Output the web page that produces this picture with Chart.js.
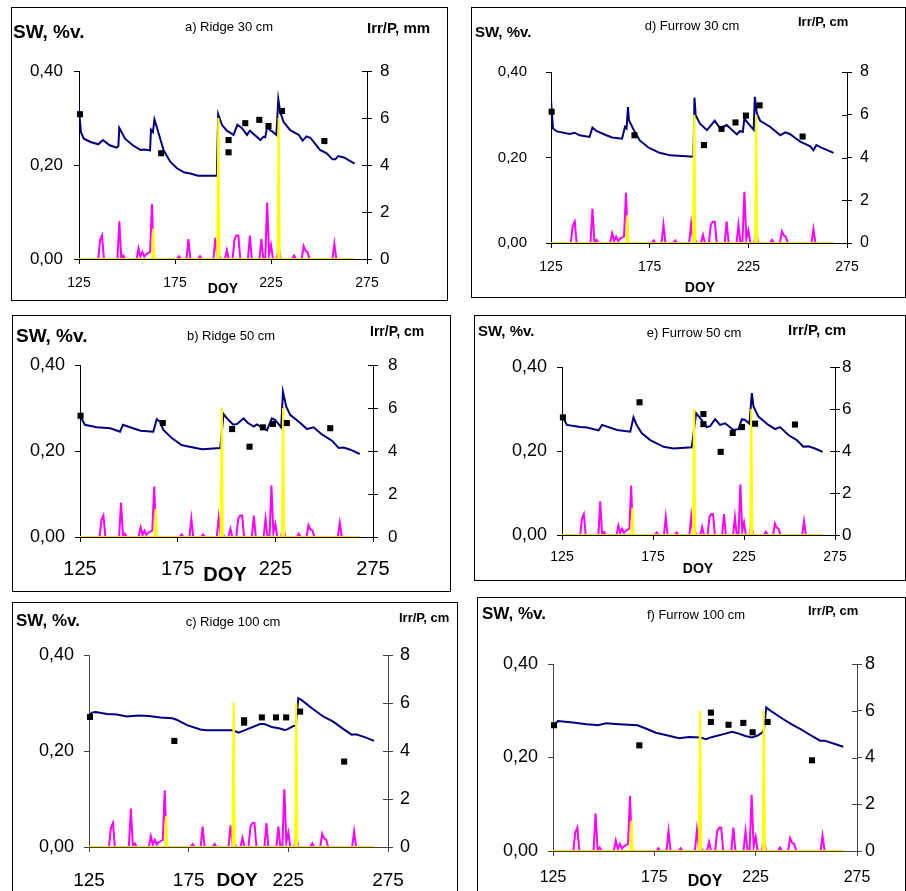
<!DOCTYPE html>
<html>
<head>
<meta charset="utf-8">
<script src="https://cdn.jsdelivr.net/npm/chart.js@4.4.1/dist/chart.umd.min.js"></script>
<style>
  body { margin: 0; background: #fff; width: 906px; height: 891px; overflow: hidden; position: relative;
         font-family: "Liberation Sans", Arial, sans-serif; }
  .box { position: absolute; border: 1px solid #000; box-sizing: border-box; }
  canvas { position: absolute; }
  .t { position: absolute; white-space: nowrap; line-height: 1; color: #000; }
</style>
</head>
<body>
<script>
// ---- data ----
const xTicks = [125, 175, 225, 275];
const swTicks = [0, 0.2, 0.4];
const irrTicks = [0, 2, 4, 6, 8];

const panelTitles = ['a) Ridge 30 cm', 'd) Furrow 30 cm', 'b) Ridge 50 cm',
                     'e) Furrow 50 cm', 'c) Ridge 100 cm', 'f) Furrow 100 cm'];

// precipitation, cm (magenta)
const precipDoy = [125,135,136,137,138,145,146,147,148,149,155,156,157,158,159,160,161,162,163,164,
  176,177,178,181,182,183,187,188,189,195,196,197,198,199,201,202,203,205,206,207,208,209,
  213,214,215,219,220,221,222,223,224,225,226,228,229,230,236,237,238,241,242,243,244,245,257,258,259,268];
const precipCm = [0,0,0.8,1.0,0,0,1.6,0.05,0.15,0,0,0.45,0.1,0.3,0.1,0.2,0.25,0.3,2.35,0,
  0,0.12,0,0,0.85,0,0,0.12,0,0,0.9,0.1,0.15,0,0,0.38,0,0,0.85,1.0,1.0,0,
  0,1.0,0,0,0.85,0,0,2.4,0.2,0.6,0,0,0.55,0,0,0.15,0,0,0.55,0.35,0.3,0,0,0.65,0,0];

// irrigation, cm (yellow)
const irrDoy = [125, 163.2, 163.7, 164.2, 197.0, 197.6, 198.1, 228.5, 229.0, 229.5, 268];
const irrCm  = [0, 0, 1.3, 0, 0, 6, 0, 0, 6, 0, 0];

// zero line (orange)
const zeroDoy = [125, 268];
const zeroCm = [0, 0];

// simulated soil water (navy)
const simDoyA = [125,126,127.5,131,135,137.5,141,144.5,145.5,146,149,153,157,159,162,162.5,163.5,164.3,166.5,169,172.5,176,180,183,187,196.8,
  197.5,199.5,202,205.5,207.5,210,212.5,214,216.5,219.5,221,222,223,224.5,225.5,227.8,228.8,229.8,231.5,235,239.5,241.5,243.5,245.5,250.5,254,257,258.5,260,263,268.5];
const simSwA = [0.317,0.270,0.256,0.249,0.244,0.253,0.242,0.237,0.240,0.279,0.256,0.242,0.232,0.233,0.231,0.275,0.270,0.297,0.267,0.232,0.207,0.193,0.184,0.182,0.177,0.177,
  0.308,0.285,0.273,0.264,0.286,0.278,0.264,0.273,0.264,0.253,0.260,0.259,0.281,0.274,0.272,0.264,0.340,0.313,0.292,0.274,0.264,0.252,0.261,0.258,0.232,0.225,0.212,0.212,0.219,0.216,0.203];

const simDoyD = [125,126,128,134.5,137,139.5,144.5,146,148,153,156,161,162.5,163.3,164,164.5,167,170,174.5,180,185.5,197.2,
  197.7,198.3,200.5,204,205.5,208,210.7,214,219.2,220.8,222.2,223,225,227.7,228.3,229.3,231,236,241.2,243.7,246,251.3,256.4,258,259.5,262,268.2];
const simSwD = [0.334,0.268,0.261,0.255,0.258,0.252,0.248,0.270,0.262,0.252,0.247,0.244,0.272,0.268,0.318,0.287,0.264,0.240,0.223,0.211,0.205,0.202,
  0.340,0.299,0.279,0.264,0.272,0.286,0.268,0.276,0.254,0.262,0.260,0.291,0.279,0.265,0.342,0.303,0.286,0.272,0.252,0.259,0.255,0.237,0.226,0.217,0.229,0.223,0.211];

const simDoyB = [125.3,127.5,133.5,140.5,145.5,147,149.5,156,162.5,164.3,166,167.7,172,177,181,187.5,196.8,
  198.5,201,203.5,205.5,208.7,211,214,215.5,219,220.7,223.2,225,228,228.9,230.6,232.6,237.8,241.2,244.6,249,254,257.4,260,263.4,268.2];
const simSwB = [0.280,0.261,0.255,0.253,0.245,0.261,0.257,0.247,0.245,0.274,0.268,0.249,0.230,0.214,0.210,0.204,0.207,
  0.286,0.272,0.261,0.263,0.276,0.265,0.257,0.262,0.253,0.248,0.276,0.272,0.255,0.338,0.303,0.284,0.265,0.251,0.255,0.238,0.224,0.207,0.208,0.203,0.193];

const simDoyE = [125.5,127.7,135,138.7,145.1,147,149.8,155.2,162.5,164.3,166,168.9,173.5,180.8,186.3,196.3,
  198.7,200.9,204.6,206.4,209.1,211.8,214.6,219.2,222,223.8,225.6,228,229.3,230.2,232.9,238.4,242.1,244.8,249.4,254,257.6,260.4,264,268.2];
const simSwE = [0.280,0.262,0.257,0.256,0.249,0.262,0.258,0.250,0.246,0.280,0.262,0.242,0.226,0.210,0.206,0.209,
  0.290,0.278,0.257,0.259,0.276,0.262,0.266,0.250,0.252,0.276,0.274,0.265,0.338,0.306,0.282,0.262,0.252,0.257,0.238,0.226,0.210,0.211,0.206,0.198];

const simDoyC = [125,126.5,128.3,134,139,144,150,155,160.8,166.7,169,174.2,180.8,184,197.2,200,204.2,210.8,213,216.7,220.8,223,224.5,227.5,228.8,
  230,231.7,237.5,242.5,247.5,252.5,256.7,259,263.3,268];
const simSwC = [0.274,0.280,0.281,0.277,0.276,0.272,0.274,0.273,0.270,0.268,0.265,0.254,0.245,0.243,0.243,0.238,0.245,0.256,0.256,0.250,0.247,0.244,0.245,0.252,0.252,
  0.310,0.306,0.287,0.272,0.261,0.246,0.234,0.235,0.229,0.221];

const simDoyF = [125,127.5,134.8,141.4,145,147.1,151.2,157.7,166.7,170.8,175.7,180.6,187.2,192.1,197.8,200.3,203.6,210.1,213.4,216.7,219.9,223.2,226,228.4,229.2,
  230.2,233,237.9,242.8,247.8,252.7,256.8,259,264.1,268.2];
const simSwF = [0.267,0.278,0.275,0.271,0.270,0.269,0.273,0.271,0.269,0.262,0.253,0.248,0.241,0.244,0.243,0.239,0.244,0.251,0.255,0.251,0.246,0.243,0.247,0.254,0.262,
  0.307,0.298,0.284,0.271,0.259,0.246,0.236,0.236,0.229,0.223];

// measured soil water (black squares)
const obsDoyA = [125.5,167.8,202.9,202.9,211.6,218.9,223.7,230.7,252.8];
const obsSwA  = [0.308,0.225,0.253,0.227,0.289,0.296,0.283,0.315,0.251];
const obsDoyD = [125.3,167.3,202.5,211.4,218.5,223.8,230.7,252.5];
const obsSwD  = [0.307,0.252,0.229,0.267,0.282,0.298,0.322,0.249];
const obsDoyB = [125.3,167.4,202.9,211.8,218.6,223.8,230.9,253.1];
const obsSwB  = [0.282,0.265,0.251,0.210,0.255,0.263,0.265,0.253];
const obsDoyE = [125.5,167.6,202.7,202.7,212.2,218.8,223.9,231.1,253.0];
const obsSwE  = [0.280,0.316,0.288,0.264,0.198,0.243,0.257,0.265,0.263];
const obsDoyC = [125.5,167.8,202.8,202.8,211.7,218.8,223.9,230.9,253.0];
const obsSwC  = [0.271,0.221,0.264,0.259,0.270,0.270,0.270,0.282,0.178];
const obsDoyF = [125.5,167.6,202.9,202.9,211.6,218.9,223.5,230.9,252.8];
const obsSwF  = [0.269,0.226,0.296,0.276,0.270,0.274,0.254,0.276,0.194];

// ---- layout of the six panels (page pixels) ----
const FONT = '"Liberation Sans", Arial, sans-serif';
Chart.defaults.font.family = FONT;

const panels = [
  { box: [11, 7, 448, 301], plot: [79, 71, 367, 259], axis: '#000', fL: 17, fR: 17, fX: 14, pL: 11, pR: 8, pX: 11,
    sw: [13, 31, 19], ttl: [229, 26, 13], irr: [367, 27, 15], doy: [223, 288, 14], irrText: 'Irr/P, mm',
    title: panelTitles[0], sim: [simDoyA, simSwA], obs: [obsDoyA, obsSwA] },
  { box: [471, 7, 906, 298], plot: [551, 72, 847, 243], axis: '#000', fL: 15, fR: 16, fX: 14, pL: 19, pR: 8, pX: 11,
    sw: [475, 31, 15], ttl: [692, 25, 13], irr: [798, 21, 13], doy: [700, 287, 14], irrText: 'Irr/P, cm',
    title: panelTitles[1], sim: [simDoyD, simSwD], obs: [obsDoyD, obsSwD] },
  { box: [12, 315, 451, 592], plot: [80, 365, 373, 537], axis: '#000', fL: 18, fR: 17, fX: 20, pL: 10, pR: 10, pX: 15,
    sw: [16, 335, 19], ttl: [231, 335, 13], irr: [370, 331, 14], doy: [225, 574, 20], irrText: 'Irr/P, cm',
    title: panelTitles[2], sim: [simDoyB, simSwB], obs: [obsDoyB, obsSwB] },
  { box: [474, 315, 906, 581], plot: [562, 367, 835, 535], axis: '#000', fL: 18, fR: 17, fX: 14, pL: 10, pR: 2, pX: 9,
    sw: [478, 330, 15], ttl: [694, 332, 13], irr: [788, 329, 15], doy: [698, 568, 14], irrText: 'Irr/P, cm',
    title: panelTitles[3], sim: [simDoyE, simSwE], obs: [obsDoyE, obsSwE] },
  { box: [12, 602, 458, 895], plot: [89, 655, 388, 847], axis: '#444', fL: 18, fR: 18, fX: 19, pL: 10, pR: 7, pX: 17,
    sw: [16, 620, 17], ttl: [233, 621, 13], irr: [399, 617, 13], doy: [237, 879, 19], irrText: 'Irr/P, cm',
    title: panelTitles[4], sim: [simDoyC, simSwC], obs: [obsDoyC, obsSwC] },
  { box: [477, 597, 906, 895], plot: [553, 664, 857, 851], axis: '#444', fL: 18, fR: 18, fX: 16, pL: 10, pR: 3, pX: 12,
    sw: [482, 613, 17], ttl: [696, 614, 13], irr: [808, 610, 13], doy: [705, 881, 16], irrText: 'Irr/P, cm',
    title: panelTitles[5], sim: [simDoyF, simSwF], obs: [obsDoyF, obsSwF] }
];

function pts(xs, ys) { return xs.map((x, i) => ({ x: x, y: ys[i] })); }

function addText(txt, x, cy, size, bold, centered) {
  const d = document.createElement('div');
  d.className = 't';
  d.textContent = txt;
  d.style.left = x + 'px';
  d.style.top = cy + 'px';
  d.style.fontSize = size + 'px';
  d.style.fontWeight = bold ? 'bold' : 'normal';
  d.style.transform = centered ? 'translate(-50%, -50%)' : 'translateY(-50%)';
  document.body.appendChild(d);
}

// inward half of the secondary-axis ticks
const crossTicks = {
  id: 'crossTicks',
  afterDraw(chart, args, opts) {
    const s = chart.scales.y2, ctx = chart.ctx;
    ctx.save();
    ctx.strokeStyle = opts.color;
    ctx.lineWidth = 1;
    s.ticks.forEach(t => {
      const y = Math.round(s.getPixelForValue(t.value)) + 0.5;
      ctx.beginPath();
      ctx.moveTo(s.left - 5, y);
      ctx.lineTo(s.left, y);
      ctx.stroke();
    });
    ctx.restore();
  }
};

panels.forEach(p => {
  const [bl, bt, br, bb] = p.box;
  const [x0, y0, x1, y1] = p.plot;
  const cv = document.createElement('canvas');
  cv.width = br - bl; cv.height = bb - bt;
  cv.style.left = bl + 'px'; cv.style.top = bt + 'px';
  cv.style.width = (br - bl) + 'px'; cv.style.height = (bb - bt) + 'px';
  document.body.appendChild(cv);

  const frame = document.createElement('div');
  frame.className = 'box';
  frame.style.left = bl + 'px'; frame.style.top = bt + 'px';
  frame.style.width = (br - bl) + 'px'; frame.style.height = (bb - bt) + 'px';
  document.body.appendChild(frame);

  const tickFont = s => ({ size: s, family: FONT });
  const gridOpts = { drawOnChartArea: false, drawTicks: true, tickLength: 5, color: p.axis };

  new Chart(cv, {
    type: 'line',
    data: {
      datasets: [
        { data: pts(p.obs[0], p.obs[1]), showLine: false, pointStyle: 'rect', pointRadius: 4.3,
          backgroundColor: '#000', borderColor: '#000', borderWidth: 0, yAxisID: 'y', order: 0, clip: false },
        { data: pts(zeroDoy, zeroCm), borderColor: '#FFB400', borderWidth: 1, pointRadius: 0, yAxisID: 'y2', order: 1 },
        { data: pts(irrDoy, irrCm), borderColor: '#FFFF00', borderWidth: 2.2, pointRadius: 0, yAxisID: 'y2', order: 2 },
        { data: pts(p.sim[0], p.sim[1]), borderColor: '#000080', borderWidth: 2, pointRadius: 0, yAxisID: 'y', order: 3 },
        { data: pts(precipDoy, precipCm), borderColor: '#FF00FF', borderWidth: 2, pointRadius: 0, yAxisID: 'y2', order: 4 }
      ]
    },
    options: {
      responsive: false,
      animation: false,
      devicePixelRatio: 1,
      layout: { padding: { top: y0 - bt, left: 0, right: 0, bottom: 0 } },
      elements: { line: { tension: 0 } },
      plugins: { legend: { display: false }, tooltip: { enabled: false }, crossTicks: { color: p.axis } },
      scales: {
        x: {
          type: 'linear', min: 125, max: 275,
          afterBuildTicks: s => { s.ticks = xTicks.map(v => ({ value: v })); },
          afterFit: s => { s.height = bb - y1; },
          grid: gridOpts, border: { color: p.axis, width: 1 },
          ticks: { font: tickFont(p.fX), color: '#000', padding: p.pX, maxRotation: 0, autoSkip: false }
        },
        y: {
          position: 'left', min: 0, max: 0.4,
          afterBuildTicks: s => { s.ticks = swTicks.map(v => ({ value: v })); },
          afterFit: s => { s.width = x0 - bl; },
          grid: gridOpts, border: { color: p.axis, width: 1 },
          ticks: { font: tickFont(p.fL), color: '#000', padding: p.pL,
                   callback: v => v.toFixed(2).replace('.', ',') }
        },
        y2: {
          position: 'right', min: 0, max: 8,
          afterBuildTicks: s => { s.ticks = irrTicks.map(v => ({ value: v })); },
          afterFit: s => { s.width = br - x1; },
          grid: gridOpts, border: { color: p.axis, width: 1 },
          ticks: { font: tickFont(p.fR), color: '#000', padding: p.pR }
        }
      }
    },
    plugins: [crossTicks]
  });

  addText('SW, %v.', p.sw[0], p.sw[1], p.sw[2], true, false);
  addText(p.title, p.ttl[0], p.ttl[1], p.ttl[2], false, true);
  addText(p.irrText, p.irr[0], p.irr[1], p.irr[2], true, false);
  addText('DOY', p.doy[0], p.doy[1], p.doy[2], true, true);
});
</script>
</body>
</html>
